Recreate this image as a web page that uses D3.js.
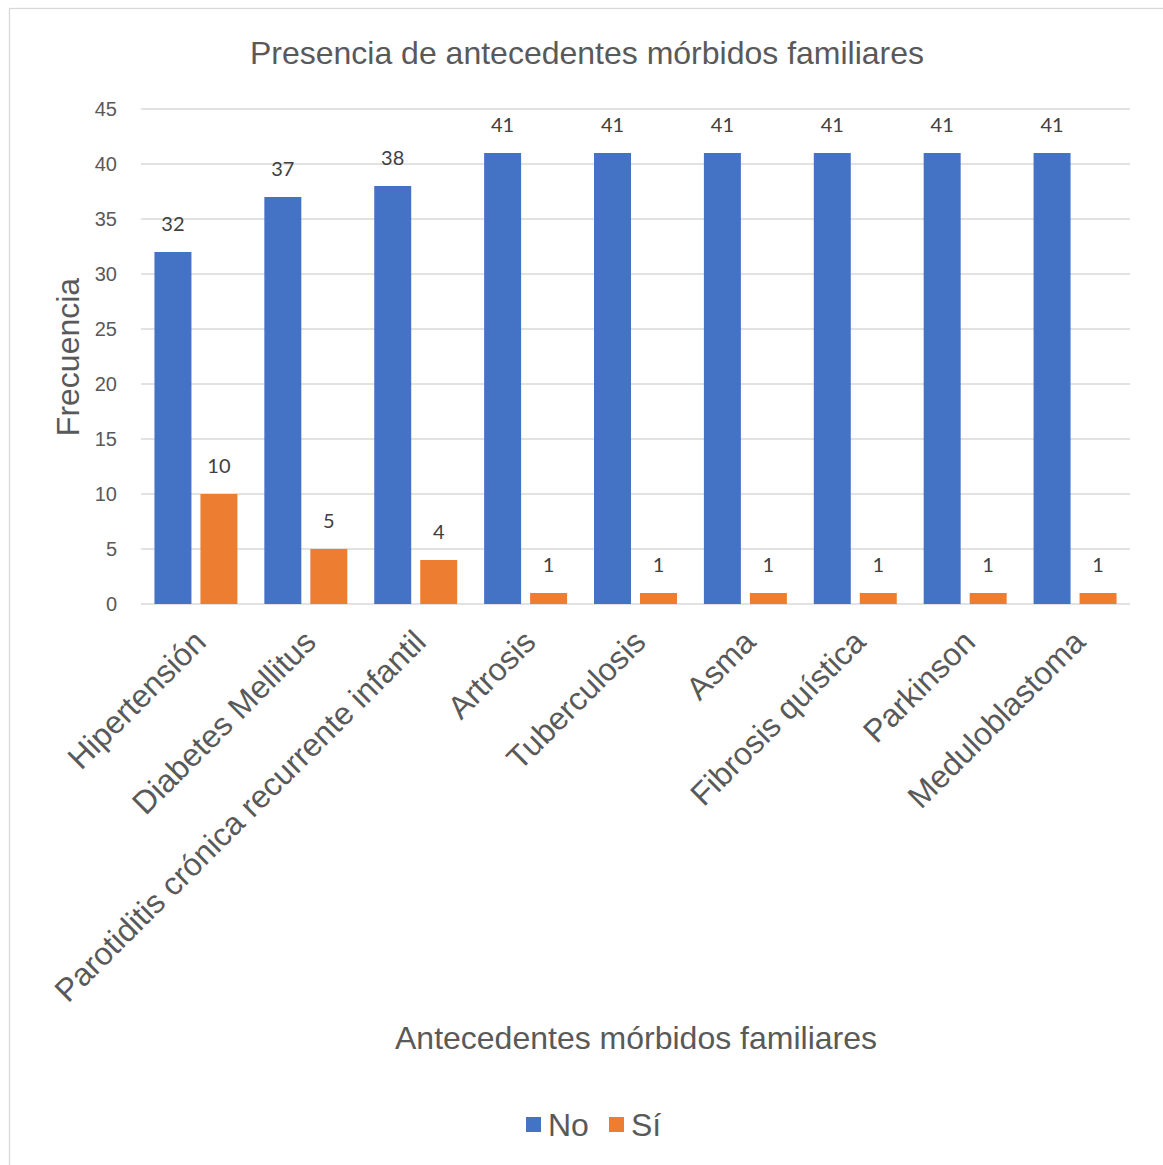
<!DOCTYPE html>
<html>
<head>
<meta charset="utf-8">
<title>Presencia de antecedentes mórbidos familiares</title>
<script src="https://d3js.org/d3.v7.min.js"></script>
<style>
  body { margin: 0; background: #fff; }
  text { font-family: "Liberation Sans", Arial, sans-serif; }
</style>
</head>
<body>
<svg width="1163" height="1165"></svg>
<script>
var categories = ["Hipertensión", "Diabetes Mellitus", "Parotiditis crónica recurrente infantil",
  "Artrosis", "Tuberculosis", "Asma", "Fibrosis quística", "Parkinson", "Meduloblastoma"]
var series = ["No", "Sí"]
var noValues = [32, 37, 38, 41, 41, 41, 41, 41, 41]
var siValues = [10, 5, 4, 1, 1, 1, 1, 1, 1]
var yTicks = [0, 5, 10, 15, 20, 25, 30, 35, 40, 45]
var colors = ["#4472C4", "#ED7D31"]

var svg = d3.select("svg")

// chart frame
svg.append("rect")
  .attr("x", 9.5).attr("y", 8.5)
  .attr("width", 1170).attr("height", 1170)
  .attr("fill", "#fff").attr("stroke", "#d9d9d9").attr("stroke-width", 1.3)

var plotLeft = 141, plotRight = 1130, plotTop = 109, plotBottom = 604

var x0 = d3.scaleBand().domain(categories).range([plotLeft, plotRight])
  .paddingInner(0.245).paddingOuter(0.1225)
var x1 = d3.scaleBand().domain(series).range([0, x0.bandwidth()]).paddingInner(0.196)
var y = d3.scaleLinear().domain([0, 45]).range([plotBottom, plotTop])

// gridlines
svg.append("g")
  .selectAll("line")
  .data(yTicks)
  .enter().append("line")
  .attr("x1", plotLeft).attr("x2", plotRight)
  .attr("y1", function(d) { return y(d); })
  .attr("y2", function(d) { return y(d); })
  .attr("stroke", "#d9d9d9").attr("stroke-width", 1.5)

// y axis labels
var yAxis = svg.append("g")
  .attr("transform", "translate(" + (plotLeft - 24) + ",0)")
  .call(d3.axisLeft(y).tickValues(yTicks).tickSize(0).tickPadding(0))
yAxis.select(".domain").remove()
yAxis.selectAll("text")
  .attr("fill", "#595959")
  .style("font-size", "20px")

// bars
var rows = categories.map(function(c, i) {
  return { cat: c, vals: [noValues[i], siValues[i]] }
})

var groups = svg.append("g").selectAll("g")
  .data(rows)
  .enter().append("g")
  .attr("transform", function(d) { return "translate(" + x0(d.cat) + ",0)"; })

groups.selectAll("rect")
  .data(function(d) { return d.vals.map(function(v, j) { return { s: series[j], v: v, j: j }; }); })
  .enter().append("rect")
  .attr("x", function(d) { return x1(d.s); })
  .attr("y", function(d) { return y(d.v); })
  .attr("width", x1.bandwidth())
  .attr("height", function(d) { return y(0) - y(d.v); })
  .attr("fill", function(d) { return colors[d.j]; })

groups.selectAll("text")
  .data(function(d) { return d.vals.map(function(v, j) { return { s: series[j], v: v }; }); })
  .enter().append("text")
  .attr("x", function(d) { return x1(d.s) + x1.bandwidth() / 2; })
  .attr("y", function(d) { return y(d.v) - 21; })
  .attr("text-anchor", "middle")
  .attr("fill", "#404040")
  .style("font-family", "Lato, sans-serif")
  .style("font-size", "20px")
  .text(function(d) { return d.v; })

// x axis labels
var xAxis = svg.append("g")
  .attr("transform", "translate(0," + plotBottom + ")")
  .call(d3.axisBottom(x0).tickSize(0).tickPadding(0))
xAxis.select(".domain").remove()
xAxis.selectAll("text")
  .attr("fill", "#595959")
  .style("font-size", "32px")
  .attr("text-anchor", "end")
  .attr("dy", null)
  .attr("y", 0)
  .attr("transform", "translate(12,40) rotate(-45)")

// title
svg.append("text")
  .attr("x", 587).attr("y", 64)
  .attr("text-anchor", "middle")
  .attr("fill", "#595959")
  .style("font-size", "32px")
  .text("Presencia de antecedentes mórbidos familiares")

// axis titles
svg.append("text")
  .attr("transform", "translate(79," + 357 + ") rotate(-90)")
  .attr("text-anchor", "middle")
  .attr("fill", "#595959")
  .style("font-size", "32px")
  .text("Frecuencia")

svg.append("text")
  .attr("x", 636).attr("y", 1049)
  .attr("text-anchor", "middle")
  .attr("fill", "#595959")
  .style("font-size", "32px")
  .text("Antecedentes mórbidos familiares")

// legend
var legend = svg.append("g").selectAll("g")
  .data(series)
  .enter().append("g")
  .attr("transform", function(d, i) { return "translate(" + (526 + i * 83) + ",1117)"; })
legend.append("rect")
  .attr("width", 15).attr("height", 15)
  .attr("fill", function(d, i) { return colors[i]; })
legend.append("text")
  .attr("x", 22).attr("y", 19)
  .attr("fill", "#595959")
  .style("font-size", "32px")
  .text(function(d) { return d; })
</script>
</body>
</html>
